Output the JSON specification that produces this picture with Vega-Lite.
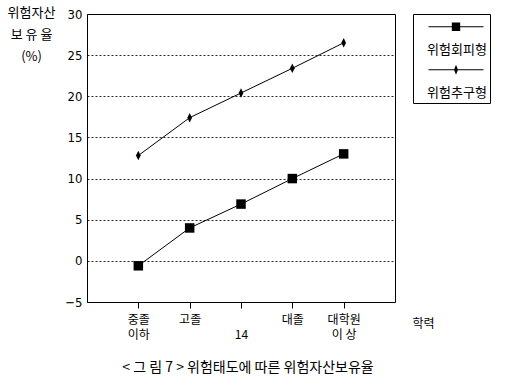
{
  "$schema": "https://vega.github.io/schema/vega-lite/v6.json",
  "width": 308,
  "height": 288,
  "autosize": {"type": "none"},
  "padding": {"left": 87, "top": 14, "right": 111, "bottom": 84},
  "background": "white",
  "title": {
    "text": "< 그 림 7 > 위험태도에 따른 위험자산보유율",
    "orient": "bottom",
    "anchor": "middle",
    "frame": "group",
    "font": "Noto Sans CJK KR",
    "fontSize": 14,
    "fontWeight": "normal",
    "color": "black",
    "offset": 21,
    "dx": 7
  },
  "data": {
    "values": [
      {"edu": "중졸 이하", "series": "위험회피형", "rate": -0.6},
      {"edu": "고졸", "series": "위험회피형", "rate": 4.0},
      {"edu": "14", "series": "위험회피형", "rate": 6.9},
      {"edu": "대졸", "series": "위험회피형", "rate": 10.0},
      {"edu": "대학원 이상", "series": "위험회피형", "rate": 13.0},
      {"edu": "중졸 이하", "series": "위험추구형", "rate": 12.8},
      {"edu": "고졸", "series": "위험추구형", "rate": 17.4},
      {"edu": "14", "series": "위험추구형", "rate": 20.4},
      {"edu": "대졸", "series": "위험추구형", "rate": 23.4},
      {"edu": "대학원 이상", "series": "위험추구형", "rate": 26.5}
    ]
  },
  "config": {
    "view": {"stroke": "black", "strokeWidth": 1}
  },
  "resolve": {"scale": {"shape": "independent"}, "legend": {"shape": "independent"}},
  "encoding": {
    "x": {
      "field": "edu",
      "type": "nominal",
      "sort": ["중졸 이하", "고졸", "14", "대졸", "대학원 이상"],
      "scale": {"type": "point", "padding": 1},
      "axis": {
        "title": "학력",
        "titleX": 336,
        "titleY": 21,
        "titleAlign": "center",
        "titleBaseline": "middle",
        "titleFont": "Noto Sans CJK KR",
        "titleFontSize": 12,
        "titleFontWeight": "normal",
        "titleColor": "black",
        "labelAngle": 0,
        "labelFont": "Noto Sans CJK KR",
        "labelFontSize": 12,
        "labelLineHeight": 15,
        "labelColor": "black",
        "labelPadding": 6,
        "labelBaseline": "top",
        "labelExpr": "datum.label == '중졸 이하' ? ['중졸', '이하'] : datum.label == '대학원 이상' ? ['대학원', '이  상'] : datum.label == '14' ? ['', '14'] : datum.label",
        "tickSize": 6,
        "tickColor": "black",
        "domain": false,
        "grid": false
      }
    },
    "y": {
      "field": "rate",
      "type": "quantitative",
      "scale": {"domain": [-5, 30], "nice": false, "zero": false},
      "axis": {
        "values": [-5, 0, 5, 10, 15, 20, 25, 30],
        "grid": true,
        "gridDash": [2, 2],
        "gridColor": "black",
        "gridOpacity": 0.85,
        "ticks": false,
        "domain": false,
        "labelFont": "DejaVu Sans Condensed",
        "labelFontSize": 13,
        "labelColor": "black",
        "labelPadding": 5,
        "labelFlush": false,
        "labelOverlap": false,
        "title": ["위험자산", "보 유 율", "(%)"],
        "titleAngle": 0,
        "titleX": -56,
        "titleY": -8,
        "titleAlign": "center",
        "titleBaseline": "top",
        "titleFont": "Noto Sans CJK KR",
        "titleFontSize": 13,
        "titleFontWeight": "normal",
        "titleColor": "black",
        "titleLineHeight": 22
      }
    }
  },
  "layer": [
    {
      "mark": {"type": "line", "color": "black", "strokeWidth": 1},
      "encoding": {"detail": {"field": "series", "type": "nominal"}}
    },
    {
      "mark": {"type": "point", "filled": true, "color": "black", "opacity": 1, "size": 90},
      "encoding": {
        "shape": {
          "field": "series",
          "type": "nominal",
          "scale": {
            "domain": ["위험회피형", "위험추구형"],
            "range": ["square", "M0,-1L0.5,0L0,1L-0.5,0Z"]
          },
          "legend": null
        }
      }
    },
    {
      "transform": [{"filter": "datum.rate > 1000"}],
      "mark": {"type": "point", "filled": true, "color": "black", "opacity": 1, "size": 400},
      "encoding": {
        "shape": {
          "field": "series",
          "type": "nominal",
          "scale": {
            "domain": ["위험회피형", "위험추구형"],
            "range": ["M0.15,-0.18H5.65V-0.08H0.15ZM2.48,-0.55H3.32V0.29H2.48Z", "M0.15,-0.18H5.65V-0.08H0.15ZM2.9,-0.63L3.1,-0.13L2.9,0.37L2.7,-0.13Z"]
          },
          "legend": {
            "orient": "none",
            "legendX": 326,
            "legendY": 0,
            "title": null,
            "strokeColor": "black",
            "fillColor": "white",
            "padding": 3,
            "rowPadding": 3,
            "symbolSize": 400,
            "symbolFillColor": "black",
            "symbolOpacity": 1,
            "labelFont": "Noto Sans CJK KR",
            "labelFontSize": 13,
            "labelColor": "black",
            "labelAlign": "center",
            "labelBaseline": "line-top",
            "labelExpr": "['', datum.label]",
            "labelOffset": 19,
            "labelLimit": 200
          }
        }
      }
    }
  ]
}
